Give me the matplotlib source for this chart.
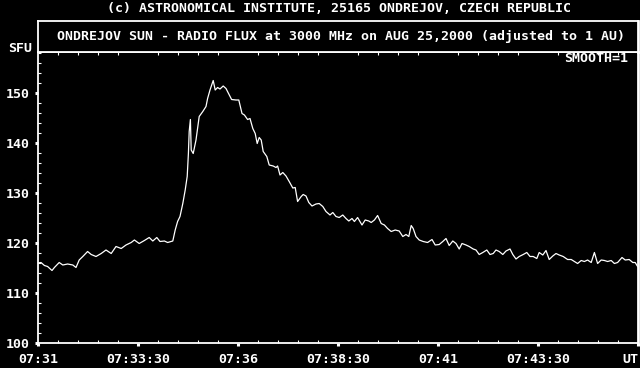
import matplotlib
matplotlib.use('Agg')
import matplotlib.pyplot as plt
from matplotlib.ticker import MultipleLocator, FixedLocator

# minutes after 07:31 UT and flux in SFU
minutes = [0.00, 0.075, 0.16, 0.24, 0.35, 0.41, 0.53, 0.62, 0.74, 0.87,
           0.95, 1.03, 1.12, 1.24, 1.33, 1.45, 1.58, 1.70, 1.83, 1.95,
           2.08, 2.20, 2.33, 2.41, 2.53, 2.66, 2.78, 2.87, 2.97, 3.05,
           3.16, 3.24, 3.37, 3.43, 3.49, 3.55, 3.62, 3.68, 3.73, 3.76,
           3.78, 3.81, 3.83, 3.88, 3.95, 4.03, 4.12, 4.20, 4.24, 4.30,
           4.38, 4.43, 4.49, 4.55, 4.63, 4.70, 4.84, 4.95, 5.02, 5.10,
           5.16, 5.24, 5.30, 5.37, 5.43, 5.48, 5.53, 5.58, 5.63, 5.72,
           5.78, 5.88, 5.95, 5.99, 6.05, 6.12, 6.20, 6.28, 6.37, 6.43,
           6.49, 6.58, 6.63, 6.70, 6.77, 6.85, 6.95, 7.03, 7.12, 7.20,
           7.30, 7.37, 7.45, 7.53, 7.62, 7.70, 7.77, 7.85, 7.91, 7.99,
           8.10, 8.18, 8.27, 8.33, 8.41, 8.49, 8.58, 8.66, 8.74, 8.83,
           8.93, 9.03, 9.12, 9.20, 9.27, 9.33, 9.38, 9.45, 9.53, 9.63,
           9.74, 9.85, 9.93, 10.03, 10.12, 10.20, 10.28, 10.37, 10.45, 10.53,
           10.60, 10.70, 10.78, 10.88, 10.95, 11.03, 11.12, 11.22, 11.30, 11.38,
           11.45, 11.53, 11.62, 11.70, 11.80, 11.87, 11.95, 12.03, 12.13, 12.22,
           12.30, 12.38, 12.47, 12.53, 12.62, 12.70, 12.78, 12.87, 12.95, 13.03,
           13.13, 13.24, 13.33, 13.41, 13.49, 13.58, 13.66, 13.74, 13.83, 13.91,
           13.99, 14.08, 14.16, 14.24, 14.33, 14.41, 14.49, 14.60, 14.68, 14.78,
           14.87, 14.93, 14.99]
flux = [116.0, 116.1, 115.5, 115.3, 114.5, 115.1, 116.1, 115.6, 115.8, 115.6,
        115.1, 116.6, 117.3, 118.3, 117.7, 117.3, 117.9, 118.6, 117.9, 119.3,
        118.9, 119.6, 120.1, 120.6, 119.9, 120.5, 121.1, 120.4, 121.1, 120.3,
        120.4, 120.1, 120.4, 122.6, 124.3, 125.3, 127.9, 130.6, 133.3, 137.9,
        142.3, 144.7, 138.6, 137.9, 140.6, 145.3, 146.3, 147.3, 148.9, 150.6,
        152.5, 150.6, 151.1, 150.8, 151.4, 150.9, 148.7, 148.6, 148.6, 145.9,
        145.6, 144.7, 144.9, 142.9, 141.9, 139.9, 141.1, 140.6, 138.3, 137.3,
        135.6, 135.4, 135.1, 135.4, 133.6, 134.1, 133.4, 132.3, 131.0, 131.1,
        128.3, 129.3, 129.7, 129.4, 128.1, 127.4, 127.8, 127.9, 127.3, 126.3,
        125.6, 126.1, 125.3, 125.1, 125.6, 124.9, 124.4, 124.9, 124.3, 125.1,
        123.6, 124.6, 124.4, 124.1, 124.6, 125.5, 123.9, 123.6, 122.9, 122.3,
        122.6, 122.4, 121.3, 121.7, 121.3, 123.5, 122.9, 121.3, 120.6, 120.3,
        120.1, 120.7, 119.6, 119.7, 120.3, 120.9, 119.5, 120.4, 119.9, 118.8,
        119.9, 119.6, 119.3, 118.8, 118.6, 117.7, 118.1, 118.6, 117.7, 117.9,
        118.6, 118.3, 117.7, 118.4, 118.8, 117.7, 116.8, 117.3, 117.7, 118.1,
        117.3, 117.3, 116.9, 118.1, 117.6, 118.5, 116.7, 117.4, 117.9, 117.6,
        117.3, 116.7, 116.7, 116.3, 115.9, 116.5, 116.3, 116.6, 116.1, 118.1,
        115.9, 116.6, 116.5, 116.3, 116.5, 115.9, 116.1, 117.1, 116.6, 116.7,
        116.1, 116.1, 115.3]

x_ticks = [0, 2.5, 5, 7.5, 10, 12.5, 15]
x_labels = ['07:31', '07:33:30', '07:36', '07:38:30', '07:41', '07:43:30', 'UT']
y_ticks = [100, 110, 120, 130, 140, 150]

font = 'DejaVu Sans Mono'
fs = 9.5

fig = plt.figure(figsize=(6.4, 3.68), dpi=100, facecolor='black')

ax = fig.add_axes([38 / 640, 25 / 368, 600 / 640, 291 / 368], facecolor='black')
ax.plot(minutes, flux, color='white', lw=0.9)
ax.set_xlim(0, 15)
ax.set_ylim(100, 100 + 291 / 5)

ax.xaxis.set_major_locator(FixedLocator(x_ticks))
ax.set_xticklabels(x_labels)
ax.xaxis.set_minor_locator(MultipleLocator(0.5))
ax.yaxis.set_major_locator(FixedLocator(y_ticks))
ax.set_yticklabels([str(v) for v in y_ticks])
ax.yaxis.set_minor_locator(MultipleLocator(2))

ax.tick_params(which='major', direction='out', length=2, width=2.2,
               color='white', labelcolor='white', pad=4)
ax.tick_params(axis='x', which='major', pad=5)
ax.tick_params(which='minor', direction='in', length=2, width=0.8, color='white')
ax.tick_params(axis='x', which='minor', top=True)
for lab in ax.get_xticklabels() + ax.get_yticklabels():
    lab.set_fontfamily(font)
    lab.set_fontweight('bold')
    lab.set_fontsize(fs)
ax.get_xticklabels()[-1].set_ha('right')
for s in ax.spines.values():
    s.set_color('white')
    s.set_linewidth(1.3)
ax.spines['right'].set_linewidth(2)

# header box with the inner title
hdr = fig.add_axes([38 / 640, (368 - 52) / 368, 600 / 640, 31 / 368], facecolor='black')
hdr.set_xticks([])
hdr.set_yticks([])
for s in hdr.spines.values():
    s.set_color('white')
    s.set_linewidth(1.3)
hdr.spines['right'].set_linewidth(2)
hdr.text(0.505, 0.5, 'ONDREJOV SUN - RADIO FLUX at 3000 MHz on AUG 25,2000 (adjusted to 1 AU)',
         transform=hdr.transAxes, ha='center', va='center', color='white',
         family=font, fontweight='bold', fontsize=fs)

fig.text(339 / 640, 1 - 9 / 368, '(c) ASTRONOMICAL INSTITUTE, 25165 ONDREJOV, CZECH REPUBLIC',
         ha='center', va='center', color='white', family=font, fontweight='bold', fontsize=fs)
fig.text(8 / 640, 1 - 48 / 368, 'SFU', ha='left', va='center', color='white',
         family=font, fontweight='bold', fontsize=fs)
fig.text(628 / 640, 1 - 58 / 368, 'SMOOTH=1', ha='right', va='center', color='white',
         family=font, fontweight='bold', fontsize=fs)

fig.savefig('out.png', dpi=100, facecolor='black')
